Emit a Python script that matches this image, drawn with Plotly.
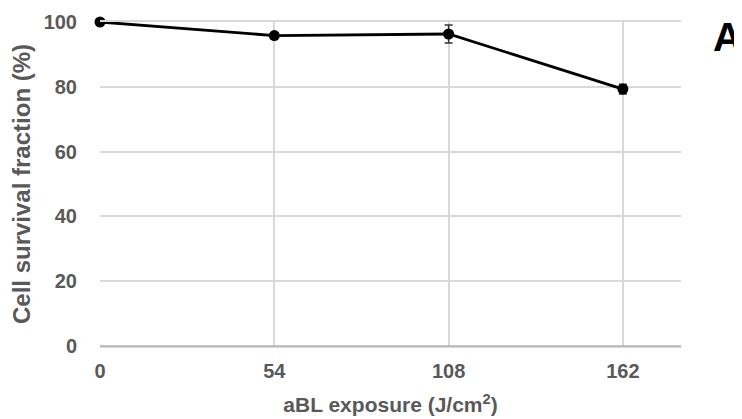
import plotly.graph_objects as go

exposure = [0, 54, 108, 162]
survival = [100, 95.8, 96.3, 79.3]
error = [0.4, 0.8, 2.8, 1.5]
x_ticks = [0, 54, 108, 162]
y_ticks = [0, 20, 40, 60, 80, 100]

fig = go.Figure()
fig.add_trace(go.Scatter(
    x=exposure, y=survival,
    mode="lines+markers",
    line=dict(color="black", width=2.8),
    marker=dict(color="black", size=11),
    error_y=dict(type="data", array=error, visible=True, color="#333333", thickness=1.5, width=4),
    cliponaxis=False,
    showlegend=False,
))

font_gray = "#595959"
FONT = "Liberation Sans, Arial, sans-serif"
fig.update_layout(
    width=734, height=411,
    margin=dict(l=92, r=61, t=14, b=73),
    plot_bgcolor="white", paper_bgcolor="white",
    font=dict(family=FONT, color=font_gray),
    xaxis=dict(
        range=[0, 180], tickvals=x_ticks, ticktext=[f"<b>{v}</b>" for v in x_ticks],
        showgrid=True, gridcolor="#d9d9d9", gridwidth=1.5, zeroline=False,
        showline=True, linecolor="#d9d9d9", linewidth=1.5, mirror=True,
        ticks="", tickfont=dict(size=20, color=font_gray), ticklabelstandoff=6,
        automargin=False,
        title=dict(text="<b>aBL exposure (J/cm<sup>2</sup>)</b>", font=dict(size=21, color=font_gray), standoff=17),
    ),
    yaxis=dict(
        range=[0, 100], tickvals=y_ticks, ticktext=[f"<b>{v}</b>" for v in y_ticks],
        showgrid=True, gridcolor="#d9d9d9", gridwidth=1.5, zeroline=False,
        showline=False,
        ticks="", tickfont=dict(size=20, color=font_gray), ticklabelstandoff=22,
        automargin=False,
        title=dict(text="<b>Cell survival fraction (%)</b>", font=dict(size=24, color=font_gray), standoff=12),
    ),
    shapes=[dict(type="line", xref="paper", yref="paper", x0=0, x1=1, y0=0, y1=0,
                 line=dict(color="#b0b0b0", width=1.5))],
    annotations=[dict(text="<b>A</b>", xref="paper", yref="paper", x=1.080, y=0.954,
                      showarrow=False, font=dict(size=40, color="black", family=FONT),
                      xanchor="center", yanchor="middle")],
)

fig.write_html("out.html")
